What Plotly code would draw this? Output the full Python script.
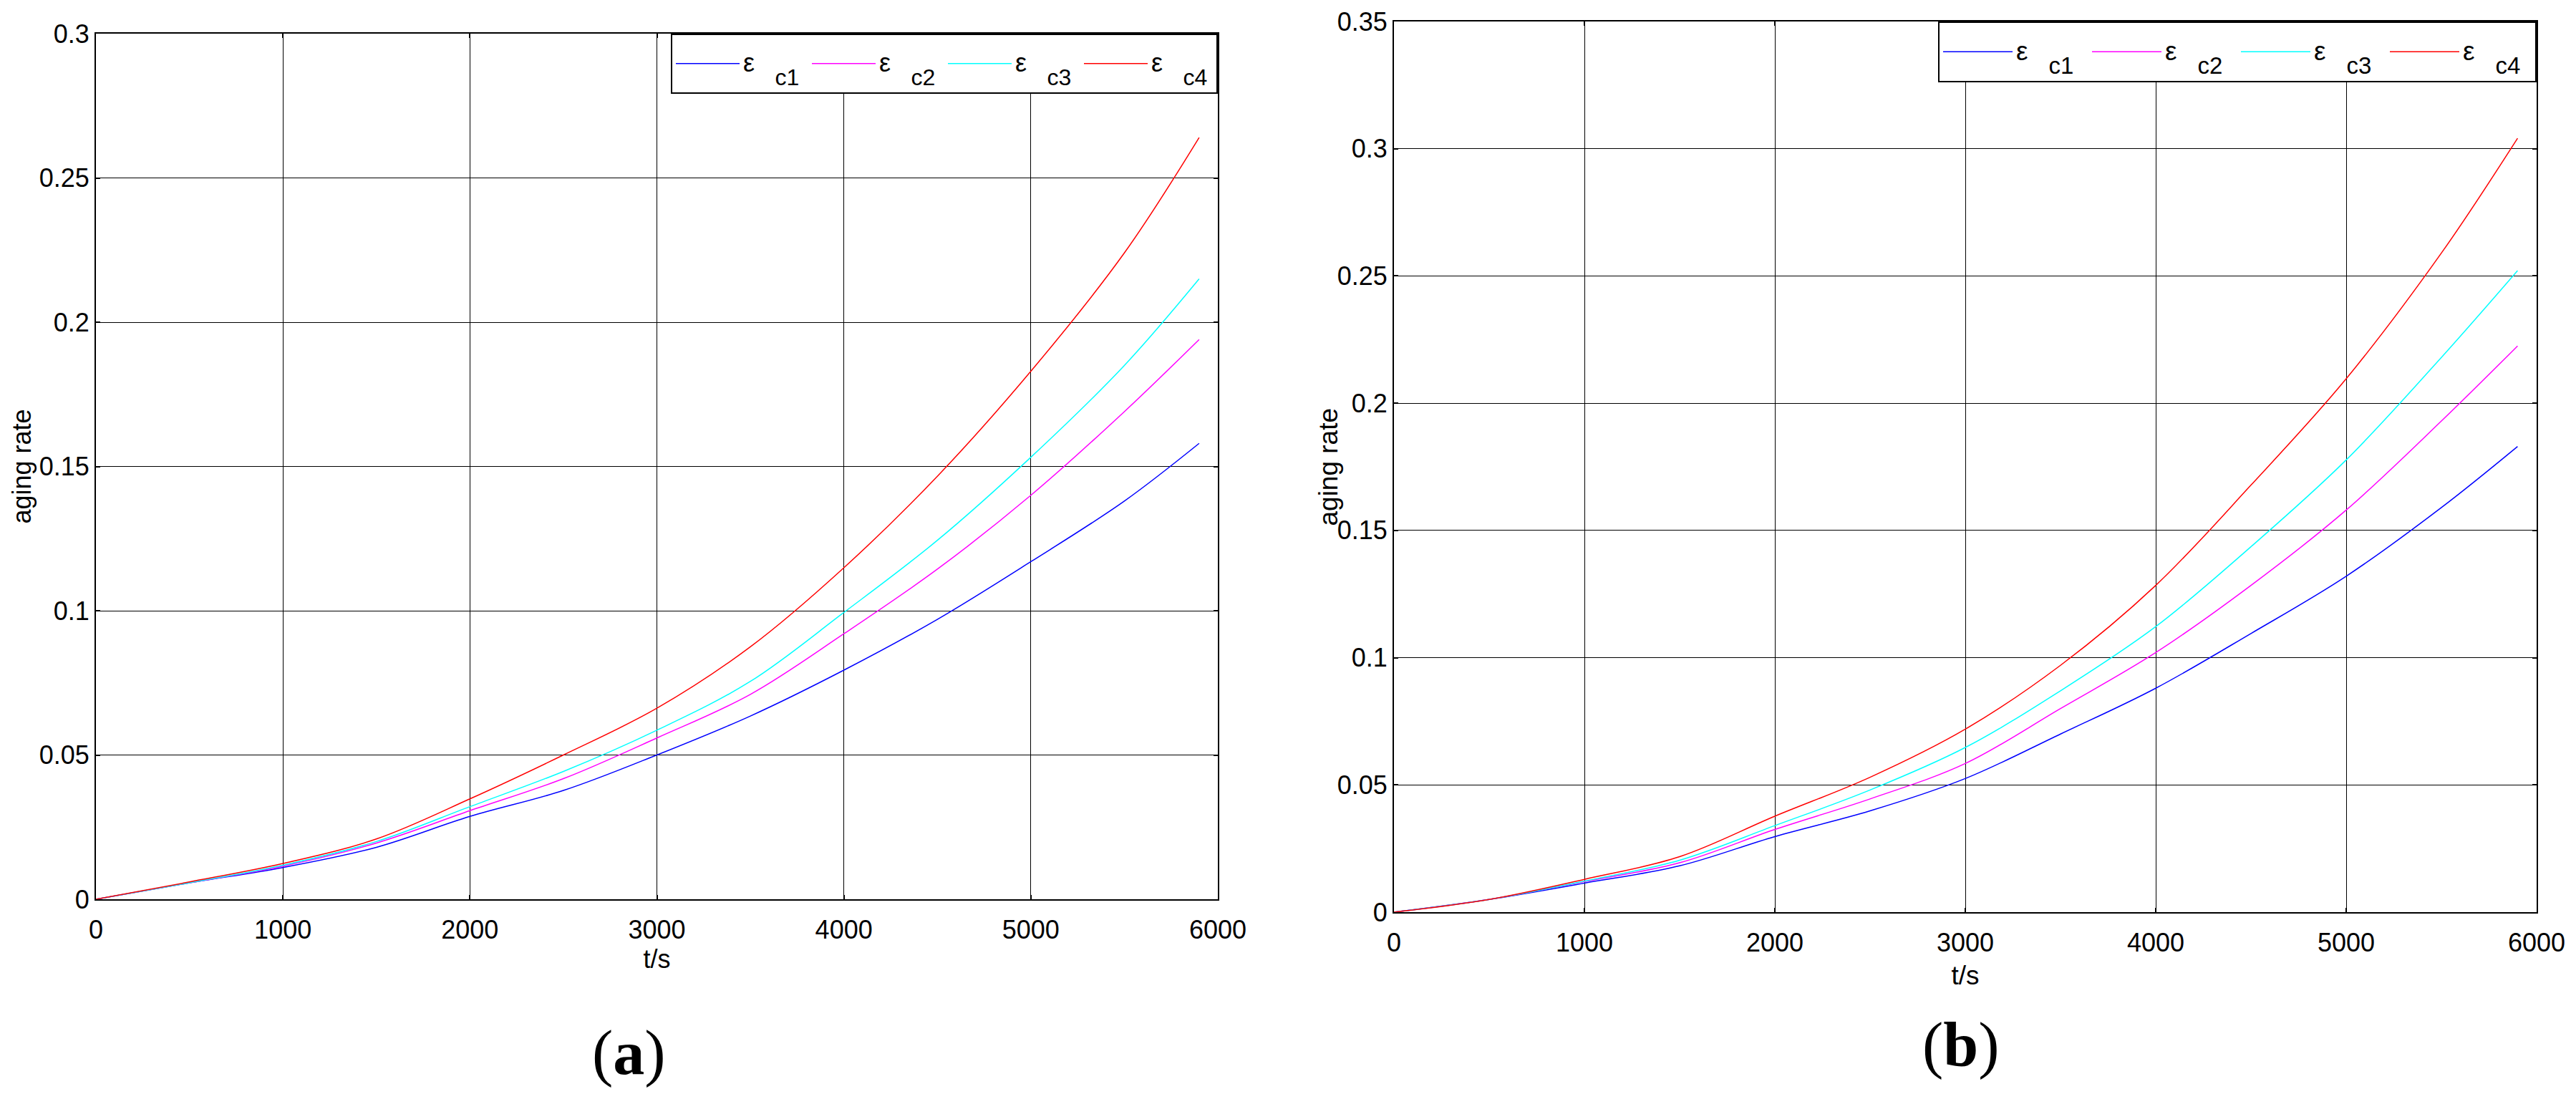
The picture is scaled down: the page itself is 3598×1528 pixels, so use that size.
import plotly.graph_objects as go

# time axis (s)
t = [0, 500, 1000, 1500, 2000, 2500, 3000, 3500, 4000, 4500, 5000, 5500, 5900]

# (a) aging rate
a_c1 = [0, 0.0057, 0.011, 0.018, 0.0287, 0.0377, 0.050, 0.0635, 0.0794, 0.097, 0.117, 0.138, 0.158]
a_c2 = [0, 0.0057, 0.0115, 0.0195, 0.0307, 0.0418, 0.0559, 0.071, 0.092, 0.1144, 0.140, 0.169, 0.194]
a_c3 = [0, 0.0057, 0.0118, 0.020, 0.0321, 0.0443, 0.0586, 0.0755, 0.0994, 0.1244, 0.1532, 0.185, 0.215]
a_c4 = [0, 0.006, 0.0124, 0.0209, 0.0348, 0.050, 0.0662, 0.0875, 0.1149, 0.1466, 0.183, 0.224, 0.264]

# (b) aging rate
b_c1 = [0, 0.005, 0.0114, 0.0182, 0.0297, 0.0398, 0.0525, 0.070, 0.088, 0.1095, 0.132, 0.159, 0.183]
b_c2 = [0, 0.005, 0.012, 0.0194, 0.0325, 0.0445, 0.0584, 0.080, 0.102, 0.1284, 0.158, 0.193, 0.2225]
b_c3 = [0, 0.005, 0.0122, 0.0204, 0.034, 0.048, 0.0647, 0.087, 0.1122, 0.1436, 0.1777, 0.218, 0.2521]
b_c4 = [0, 0.005, 0.0129, 0.0218, 0.0377, 0.053, 0.0719, 0.097, 0.1284, 0.1678, 0.2096, 0.259, 0.3041]

names = ["c1", "c2", "c3", "c4"]
colors = ["#0000FF", "#FF00FF", "#00FFFF", "#FF0000"]

FONT = "Liberation Sans, Arial, sans-serif"

# the page body keeps its default 8px margin, so the figure is 16px smaller
W, H = 3582, 1512


def legend_name(sub, eps_size, sub_size):
    # MATLAB-style "ε_c1": epsilon a bit above the line, subscript well below
    eps = f'<sup><sub><sub><span style="font-size:{eps_size}px">ε</span></sub></sub></sup>'
    return eps + "\u00a0" * 2 + f'<sub><span style="font-size:{sub_size}px">{sub}</span></sub>'


fig = go.Figure()

for ys, name, col in zip([a_c1, a_c2, a_c3, a_c4], names, colors):
    fig.add_trace(go.Scatter(
        x=t, y=ys, mode="lines", name=legend_name(name, 36, 32),
        line=dict(color=col, width=1.5, shape="spline", smoothing=1.0),
        xaxis="x", yaxis="y", legend="legend",
    ))

for ys, name, col in zip([b_c1, b_c2, b_c3, b_c4], names, colors):
    fig.add_trace(go.Scatter(
        x=t, y=ys, mode="lines", name=legend_name(name, 37, 33),
        line=dict(color=col, width=1.5, shape="spline", smoothing=1.0),
        xaxis="x2", yaxis="y2", legend="legend2",
    ))

axis_style = dict(
    showline=True, linecolor="black", linewidth=2, mirror="ticks",
    ticks="inside", ticklen=6, tickcolor="black", tickwidth=2,
    showgrid=True, gridcolor="black", gridwidth=1, zeroline=False,
    automargin=False,
    tickfont=dict(family=FONT, size=36, color="black"),
)

fig.update_layout(
    width=W, height=H,
    margin=dict(l=0, r=0, t=0, b=0, autoexpand=False),
    paper_bgcolor="white", plot_bgcolor="white",
    font=dict(family=FONT, color="black"),
    xaxis=dict(domain=[0.035176, 0.472641], range=[0, 6000], dtick=1000, anchor="y",
               ticklabelstandoff=10,
               title=dict(text="t/s", font=dict(size=36), standoff=7), **axis_style),
    yaxis=dict(domain=[0.174603, 0.974206], range=[0, 0.3], dtick=0.05, anchor="x",
               **axis_style),
    xaxis2=dict(domain=[0.541318, 0.986879], range=[0, 6000], dtick=1000, anchor="y2",
                ticklabelstandoff=10,
                title=dict(text="t/s", font=dict(size=37), standoff=13), **axis_style),
    yaxis2=dict(domain=[0.162698, 0.985450], range=[0, 0.35], dtick=0.05, anchor="x2",
                **axis_style),
    legend=dict(
        orientation="h", x=0.472641, xanchor="right", y=0.974206, yanchor="top",
        bgcolor="white", bordercolor="black", borderwidth=2,
        font=dict(family=FONT, size=51, color="black"),
        itemwidth=89, entrywidth=86, entrywidthmode="pixels",
    ),
    legend2=dict(
        orientation="h", x=0.986879, xanchor="right", y=0.985450, yanchor="top",
        bgcolor="white", bordercolor="black", borderwidth=2,
        font=dict(family=FONT, size=52, color="black"),
        itemwidth=97, entrywidth=96, entrywidthmode="pixels",
    ),
    annotations=[
        dict(text="aging rate", x=0.006142, y=0.574405, xref="paper", yref="paper",
             xanchor="center", yanchor="middle", textangle=-90, showarrow=False,
             font=dict(family=FONT, size=36)),
        dict(text="aging rate", x=0.5155, y=0.574074, xref="paper", yref="paper",
             xanchor="center", yanchor="middle", textangle=-90, showarrow=False,
             font=dict(family=FONT, size=37)),
        dict(text="(<b>a</b>)", x=0.243160, y=0.033, xref="paper", yref="paper",
             xanchor="center", yanchor="middle", showarrow=False,
             font=dict(family="Liberation Serif, serif", size=88)),
        dict(text="(<b>b</b>)", x=0.7625, y=0.040, xref="paper", yref="paper",
             xanchor="center", yanchor="middle", showarrow=False,
             font=dict(family="Liberation Serif, serif", size=88)),
    ],
)

fig.write_html("out.html")
